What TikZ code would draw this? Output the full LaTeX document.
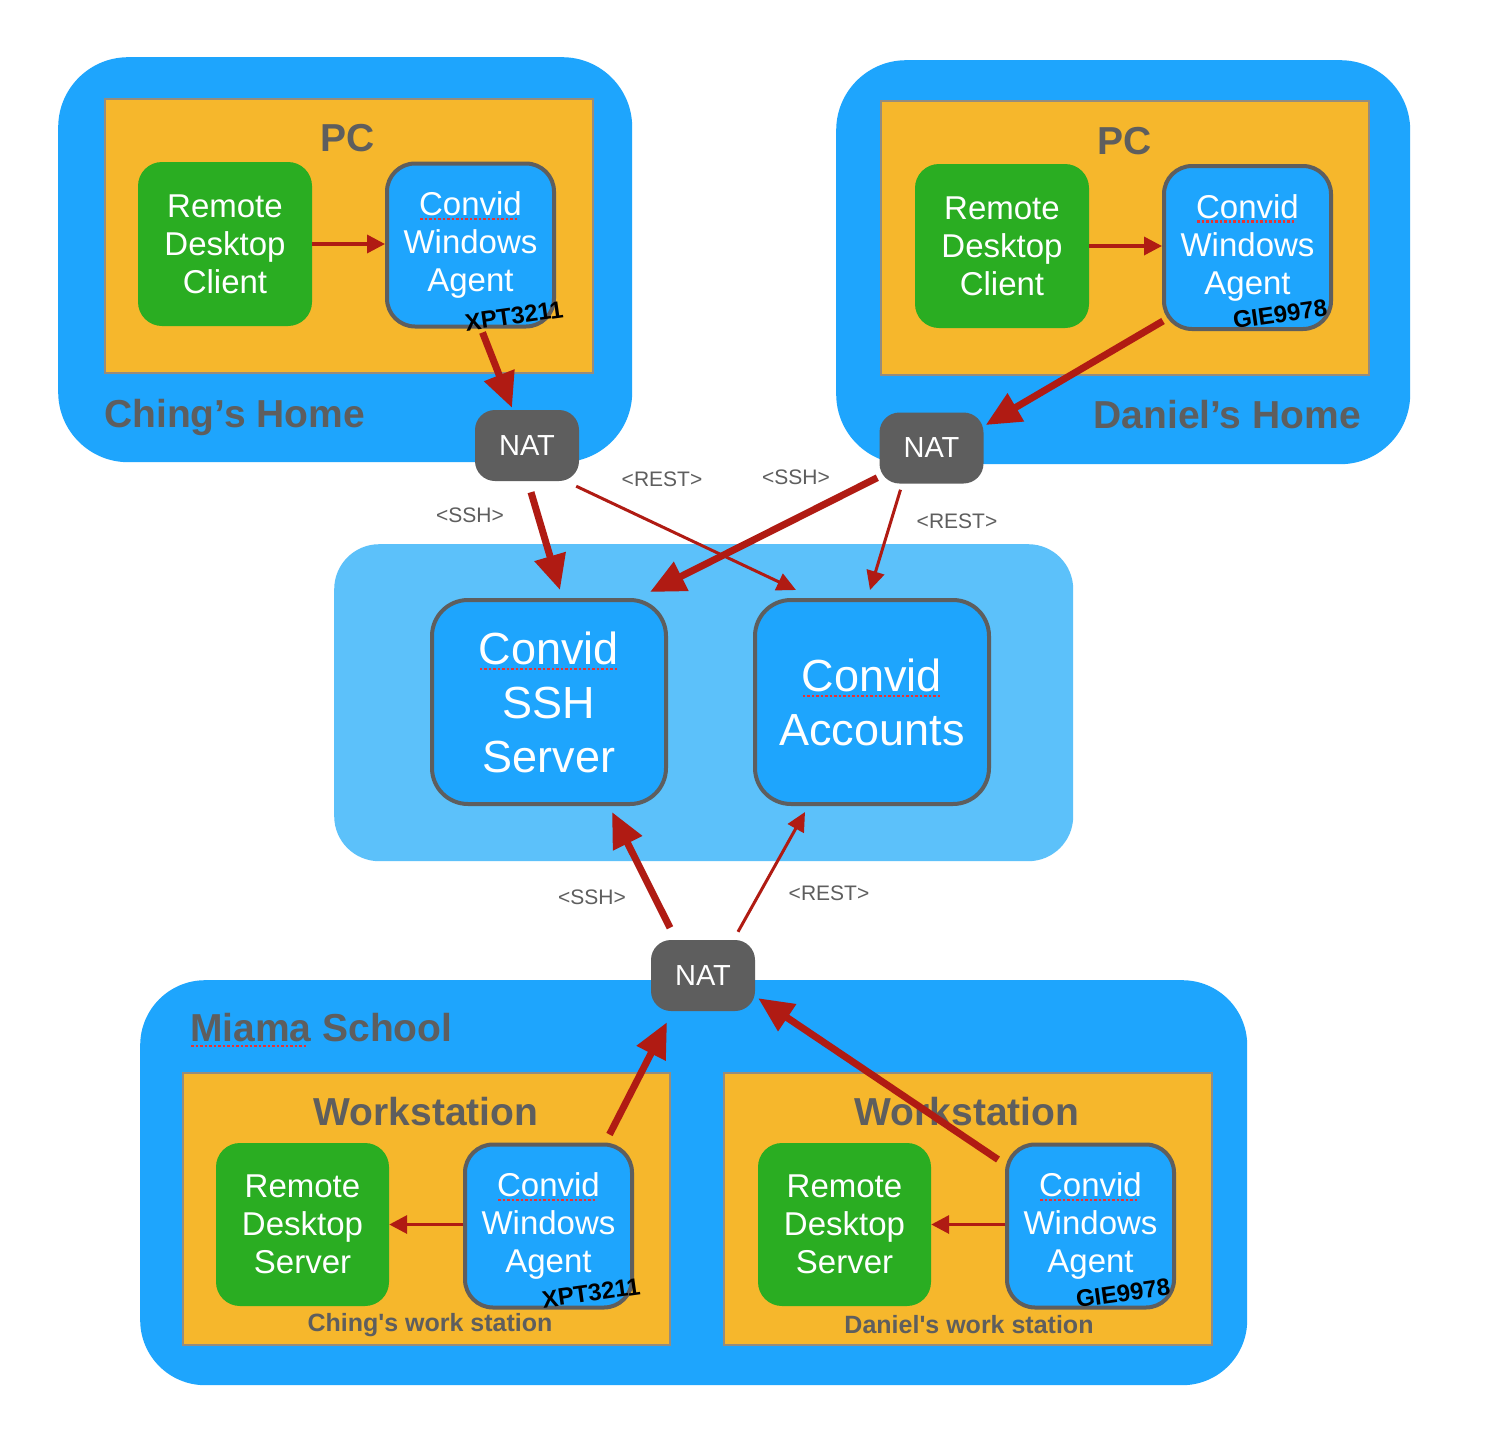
\documentclass[tikz,border=0pt]{standalone}
\usepackage{fontspec}
\setmainfont{Liberation Sans}
\usetikzlibrary{arrows.meta,calc}
\definecolor{bigblue}{RGB}{30,165,253}
\definecolor{lightblue}{RGB}{92,193,250}
\definecolor{pcorange}{RGB}{246,183,44}
\definecolor{rdgreen}{RGB}{42,173,34}
\definecolor{txtgray}{RGB}{94,94,94}
\definecolor{arrred}{RGB}{176,27,19}
\definecolor{spellred}{RGB}{232,52,52}
\definecolor{orangeedge}{RGB}{150,140,125}
\newcommand\spellerr[1]{\setbox0=\hbox{#1}\leavevmode\rlap{\raisebox{-0.14em}[0pt][0pt]{\color{spellred}\hbox to \wd0{\leaders\hbox to 4.5pt{\hss\rule{2.5pt}{2.2pt}\hss}\hfill}}}\box0\relax}
\tikzset{
  container/.style={fill=bigblue, rounded corners=70pt, anchor=north west, inner sep=0pt},
  pcbox/.style={fill=pcorange, draw=orangeedge, line width=1.5pt, anchor=north west, inner sep=0pt},
  greenbox/.style={fill=rdgreen, rounded corners=24pt, text=white, align=center, font=\fontsize{33}{38}\selectfont, minimum width=174pt, minimum height=164pt, inner sep=0pt},
  agentbox/.style={fill=bigblue, draw=txtgray, line width=4pt, rounded corners=28pt, text=white, align=center, font=\fontsize{33}{38}\selectfont, minimum width=167pt, minimum height=163pt, inner sep=0pt},
  svcbox/.style={fill=bigblue, draw=txtgray, line width=4pt, rounded corners=36pt, text=white, align=center, font=\fontsize{45}{54}\selectfont, minimum width=234pt, minimum height=204pt, inner sep=0pt},
  natbox/.style={fill=txtgray, rounded corners=20pt, text=white, font=\fontsize{29}{34}\selectfont, minimum width=104pt, minimum height=71pt, inner sep=0pt},
  title/.style={text=txtgray, font=\bfseries\fontsize{39}{44}\selectfont, inner sep=0pt},
  subtitle/.style={text=txtgray, font=\bfseries\fontsize{25}{30}\selectfont, inner sep=0pt},
  tag/.style={text=black, font=\bfseries\fontsize{24}{28}\selectfont, inner sep=0pt, rotate=8},
  lbl/.style={text=txtgray, font=\fontsize{21}{24}\selectfont, inner sep=0pt},
  thickarrow/.style={draw=arrred, line width=7pt, -{Triangle[length=35pt,width=31pt]}},
  thinarrow/.style={draw=arrred, line width=3pt, -{Triangle[length=19pt,width=18pt]}},
  smallarrow/.style={draw=arrred, line width=3.5pt, -{Triangle[length=18pt,width=18pt]}},
}
\begin{document}
\begin{tikzpicture}[x=1pt,y=-1pt]
\path[fill=white,use as bounding box] (0,0) rectangle (1492,1448);

% containers
\node[container, minimum width=574pt, minimum height=405pt] (home1) at (58,57) {};
\node[container, minimum width=574pt, minimum height=404pt] (home2) at (836,60) {};
\node[container, fill=lightblue, rounded corners=45pt, minimum width=739pt, minimum height=317pt] (cloud) at (334,544) {};
\node[container, rounded corners=65pt, minimum width=1107pt, minimum height=405pt] (school) at (140,980) {};

\node[pcbox, minimum width=488pt, minimum height=274pt] (pc1) at (104,98) {};
\node[pcbox, minimum width=488pt, minimum height=274pt] (pc2) at (880,100) {};
\node[pcbox, minimum width=487pt, minimum height=272pt] (ws1) at (182,1072) {};
\node[pcbox, minimum width=488pt, minimum height=272pt] (ws2) at (723,1072) {};

% titles
\node[title] (pc1t) at (348,138) {PC};
\node[title] (pc2t) at (1125,141) {PC};
\node[title, anchor=west] (home1t) at (104,417) {Ching’s Home};
\node[title, anchor=east] (home2t) at (1361,415) {Daniel’s Home};
\node[title, anchor=west] (schoolt) at (190,1028) {\spellerr{Miama} School};
\node[title] (ws1t) at (426,1112) {Workstation};
\node[title] (ws2t) at (967,1112) {Workstation};
\node[subtitle] (ws1s) at (430,1325) {Ching\textquotesingle s work station};
\node[subtitle] (ws2s) at (969,1325) {Daniel\textquotesingle s work station};

% boxes
\node[greenbox] (client1) at (225,244) {Remote\\Desktop\\Client};
\node[agentbox] (agent1) at (470.5,245) {\spellerr{Convid}\\Windows\\Agent};
\node[greenbox] (client2) at (1002,246) {Remote\\Desktop\\Client};
\node[agentbox] (agent2) at (1247.5,247.5) {\spellerr{Convid}\\Windows\\Agent};
\node[greenbox, minimum width=173pt, minimum height=163pt] (server1) at (302.5,1224.5) {Remote\\Desktop\\Server};
\node[agentbox] (agent3) at (548.5,1226) {\spellerr{Convid}\\Windows\\Agent};
\node[greenbox, minimum width=173pt, minimum height=163pt] (server2) at (844.5,1224.5) {Remote\\Desktop\\Server};
\node[agentbox] (agent4) at (1090.5,1226) {\spellerr{Convid}\\Windows\\Agent};

\node[svcbox] (ssh) at (549,702) {\spellerr{Convid}\\SSH\\Server};
\node[svcbox] (acc) at (872,702) {\spellerr{Convid}\\Accounts};

% tags
\node[tag] (tag1) at (514,316) {XPT3211};
\node[tag] (tag2) at (1280,314) {GIE9978};
\node[tag] (tag3) at (591,1293) {XPT3211};
\node[tag] (tag4) at (1123,1293) {GIE9978};

% NAT boxes
\node[natbox] (nat1) at (527,445.5) {NAT};
\node[natbox] (nat2) at (931.5,448) {NAT};
\node[natbox] (nat3) at (703,975.5) {NAT};

% local arrows
\draw[smallarrow] (client1.east) -- (agent1.west |- client1.east);
\draw[smallarrow] (client2.east) -- (agent2.west |- client2.east);
\draw[smallarrow] (agent3.west |- server1.east) -- (server1.east);
\draw[smallarrow] (agent4.west |- server2.east) -- (server2.east);

% agent to NAT
\draw[thickarrow] ($(agent1.south)+(12,4)$) -- ($(nat1.north)+(-15,-2)$);
\draw[thickarrow] ($(agent2.south west)+(1,-10)$) -- ($(nat2.east)+(2,-23)$);
\draw[thickarrow] ($(agent3.north)+(61,-8)$) -- ($(nat3.south)+(-36,11)$);
\draw[thickarrow] ($(agent4.north west)+(-7,17)$) -- ($(nat3.south east)+(3,-13)$);

% NAT to services
\draw[thickarrow] ($(nat1.south)+(4,11)$) -- ($(ssh.north)+(11,-8)$);
\draw[thinarrow] ($(nat1.south east)+(-3,5)$) -- ($(acc.north)+(-76,-8)$);
\draw[thickarrow] ($(nat2.south west)+(-2,-6)$) -- ($(ssh.north)+(101,-6)$);
\draw[thinarrow] ($(nat2.south)+(-31,6)$) -- ($(acc.north)+(-2,-8)$);
\draw[thickarrow] ($(nat3.north)+(-33,-12)$) -- ($(ssh.south)+(63,6)$);
\draw[thinarrow] ($(nat3.north)+(35,-8)$) -- ($(acc.south)+(-67,6)$);

% protocol labels
\node[lbl] (l1) at (470,515) {<SSH>};
\node[lbl] (l2) at (662,479) {<REST>};
\node[lbl] (l3) at (796,477) {<SSH>};
\node[lbl] (l4) at (957,521) {<REST>};
\node[lbl] (l5) at (592,897) {<SSH>};
\node[lbl] (l6) at (829,893) {<REST>};
\end{tikzpicture}
\end{document}
